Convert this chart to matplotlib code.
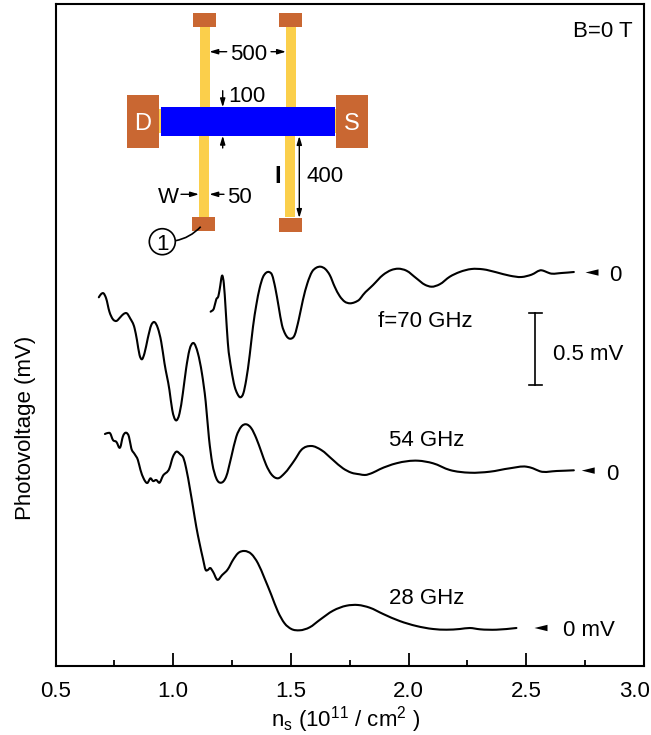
import numpy as np
import matplotlib
matplotlib.use("Agg")
import matplotlib.pyplot as plt
from matplotlib.patches import Rectangle, Circle, PathPatch, Polygon
from matplotlib.path import Path
from matplotlib.transforms import ScaledTranslation

plt.rcParams['font.family'] = ['Liberation Sans', 'DejaVu Sans']
plt.rcParams['mathtext.fontset'] = 'custom'
plt.rcParams['mathtext.rm'] = 'Liberation Sans'
plt.rcParams['mathtext.default'] = 'regular'

# carrier density (1e11 / cm^2) and signal (1/144 mV) relative to each trace's zero
ns_70 = [1.155,1.169,1.179,1.188,1.193,1.205,1.211,1.219,1.228,1.243,1.257,1.268,1.281,1.294,1.306,1.321,1.335,1.349,1.363,1.377,1.391,1.403,1.416,1.430,1.444,1.458,1.472,1.495,1.512,1.529,1.547,1.566,1.586,1.604,1.622,1.642,1.661,1.682,1.703,1.725,1.746,1.767,1.788,1.802,1.845,1.887,1.923,1.951,1.987,2.029,2.065,2.093,2.128,2.171,2.213,2.263,2.312,2.369,2.426,2.476,2.518,2.561,2.575,2.596,2.646,2.698]
v_70 = [-39.2,-35.8,-26.8,-23.5,-17.5,-3.2,-10.8,-37.5,-70,-97,-114,-121,-124.8,-120.8,-107.5,-82.5,-54.2,-32.5,-15.8,-4.8,-0.2,0.5,-2.5,-15.8,-34.2,-52.5,-61.5,-66.2,-62.5,-47.5,-27.5,-10.8,0.8,4.8,5.8,3.5,-2.5,-14.2,-23.5,-29.2,-30.8,-29.8,-26.8,-22.5,-12.5,-2.5,2.5,3.8,1.8,-5.8,-12.2,-14.2,-11.8,-4.2,0.5,3.5,3.2,0.2,-3.2,-4.5,-2.2,2.2,1.2,-0.8,-0.5,0.5]

ns_54 = [.680,.690,.700,.711,.725,.740,.754,.771,.785,.799,.813,.832,.842,.853,.863,.874,.888,.903,.915,.931,.945,.959,.980,.992,1.007,1.023,1.037,1.051,1.065,1.082,1.101,1.118,1.134,1.148,1.162,1.179,1.200,1.221,1.243,1.264,1.285,1.306,1.328,1.349,1.370,1.391,1.413,1.441,1.469,1.512,1.540,1.583,1.625,1.675,1.717,1.753,1.788,1.810,1.843,1.873,1.944,2.036,2.100,2.171,2.256,2.341,2.426,2.497,2.524,2.554,2.625,2.698]
v_54 = [173.3,176.6,177.3,172.3,158.9,151.3,149.6,153.3,156.6,157.3,152.3,142.3,130.6,115.6,111.3,117.3,132.3,145.6,148.6,142.3,128.9,107.3,80.6,60.6,50.3,57.3,77.3,102.3,120.6,127.6,117.3,97.3,68.9,32.3,7.3,-7.7,-12.1,-6.1,13.9,33.9,43.9,46.3,42.3,32.3,19,5.6,-3.7,-7.7,-2.7,10.6,20.6,24.6,20.6,10.6,2.3,-2.1,-3.7,-4.4,-2.2,1.3,7.3,9.9,7.3,0.6,-2.1,-1.1,2.3,3.9,2.3,-0.7,-0.4,0.3]

ns_28 = [.706,.718,.728,.740,.754,.771,.782,.796,.808,.818,.832,.846,.857,.870,.886,.900,.910,.924,.938,.952,.980,.995,1.009,1.026,1.040,1.051,1.068,1.080,1.094,1.108,1.122,1.134,1.143,1.153,1.165,1.183,1.204,1.228,1.250,1.271,1.299,1.328,1.356,1.384,1.413,1.441,1.469,1.498,1.533,1.576,1.618,1.675,1.732,1.781,1.831,1.888,1.958,2.029,2.100,2.157,2.214,2.256,2.299,2.369,2.454]
v_28 = [194,195,194.7,188,186.3,180.7,191.3,195.3,191.3,179.7,174,168,158,149.7,145,149.7,147,148,145.3,152,159.7,171.3,176.3,173.7,169.7,159.7,138,121.3,101.3,84.7,69.7,58,58,60,56.3,48.3,53,58.7,68,74.7,77,74,64.7,49.7,33,16.3,4.7,-1,-2.3,.7,8,17.3,22.3,23,20.3,14,7,2,-1,-1.7,-1,0,-1.3,-1.7,0]

zero_levels = [393.5, 195.4, 38.0]
x_major = [0.5, 1.0, 1.5, 2.0, 2.5, 3.0]
x_minor = [0.75, 1.25, 1.75, 2.25, 2.75]
x_labels = ['0.5', '1.0', '1.5', '2.0', '2.5', '3.0']
X_CAL = 0.004  # reading offset of the traces against the ticks

FS = 16
W, H = 651, 735
fig = plt.figure(figsize=(W/100, H/100), dpi=100)
ax = fig.add_axes([55.5/W, 1-666/H, (644-55.5)/W, (666-4)/H])
ax.set_xlim(0.5, 3.0)
ax.set_ylim(0, 662)
for s in ax.spines.values():
    s.set_linewidth(1.5)
ax.set_yticks([])
ax.set_xticks(x_major)
ax.set_xticklabels(x_labels, fontsize=FS)
ax.set_xticks(x_minor, minor=True)
ax.tick_params(axis='x', which='major', direction='in', length=9.4, width=1.3, pad=11)
ax.tick_params(axis='x', which='minor', direction='in', length=4.5, width=1.3)
last = ax.get_xticklabels()[-1]
last.set_transform(last.get_transform() + ScaledTranslation(-9/72*0.72, 0, fig.dpi_scale_trans))
ax.set_xlabel(r'n$_{s}$ (10$^{11}$ / cm$^{2}$ )', fontsize=FS, labelpad=1, x=(346-55.5)/588.5)
ax.set_ylabel('Photovoltage (mV)', fontsize=FS, labelpad=14, y=(666-428)/662)


def smooth_path(x, y):
    """Cubic Hermite curve through the read values, as a Bezier path."""
    x = np.asarray(x, float); y = np.asarray(y, float)
    m = np.gradient(y, x)
    verts = [(x[0], y[0])]
    codes = [Path.MOVETO]
    for i in range(len(x)-1):
        h = x[i+1] - x[i]
        verts += [(x[i]+h/3, y[i]+m[i]*h/3), (x[i+1]-h/3, y[i+1]-m[i+1]*h/3), (x[i+1], y[i+1])]
        codes += [Path.CURVE4]*3
    return Path(verts, codes)


for ns, v, z in zip((ns_70, ns_54, ns_28), (v_70, v_54, v_28), zero_levels):
    ax.add_patch(PathPatch(smooth_path(np.array(ns) + X_CAL, np.array(v) + z),
                           fc='none', ec='black', lw=1.5, joinstyle='round', capstyle='round'))

# overlay in picture pixels for the annotations and the device sketch
ov = fig.add_axes([0, 0, 1, 1])
ov.set_xlim(0, W)
ov.set_ylim(H, 0)
ov.axis('off')
ov.patch.set_alpha(0)


def rect(x0, y0, x1, y1, c, z=2):
    ov.add_patch(Rectangle((x0, y0), x1-x0, y1-y0, fc=c, ec='none', zorder=z))


YEL, BRN, BLU = '#FBCF4B', '#C96732', '#0000FF'
rect(199.7, 27, 210, 107, YEL); rect(199, 136, 209, 217, YEL)
rect(285.7, 27, 295.7, 107, YEL); rect(285, 136, 295, 217, YEL)
rect(159, 109, 336, 133, YEL)
for b in [(193,13,216,27), (279,13,302,27), (192,217,215,231), (279,218,302,232),
          (127,95,159,147.7), (336,95,368,147.7)]:
    rect(*b, BRN, 3)
rect(161, 107, 335, 135.7, BLU, 3)


def txt(x, y, s, ha='center', **k):
    k.setdefault('fontsize', FS)
    ov.text(x, y, s, ha=ha, va='center_baseline', zorder=6, **k)


txt(142.7, 121.7, 'D', color='white', fontsize=17)
txt(351.7, 121.7, 'S', color='white', fontsize=17)
txt(248.3, 52, '500'); txt(246.7, 93.5, '100'); txt(325, 173.5, '400')
txt(168.3, 194.5, 'W'); txt(239.3, 194.5, '50')
txt(277.3, 174, 'I', fontweight='bold', fontsize=17)
txt(602.7, 29, 'B=0 T')
txt(425, 319, 'f=70 GHz'); txt(426.5, 438, '54 GHz'); txt(426.5, 596, '28 GHz')
txt(588, 352, '0.5 mV')
txt(615.7, 273, '0'); txt(612.3, 471.5, '0'); txt(563, 628, '0 mV', ha='left')


def arrow(p0, p1, style='-|>'):
    ov.annotate('', xy=p1, xytext=p0, zorder=6,
                arrowprops=dict(arrowstyle=style + ',head_length=0.5,head_width=0.15',
                                lw=1.0, color='black', shrinkA=0, shrinkB=0))


arrow((226.7, 51.7), (209.3, 51.7)); arrow((271, 51.7), (286, 51.7))
arrow((222.7, 90.7), (222.7, 107.3)); arrow((222.7, 148), (222.7, 135.7))
arrow((181, 194.3), (199, 194.3)); arrow((224, 194.3), (209.3, 194.3))
arrow((299.3, 136), (299.3, 218), '<|-|>')

# scale bar
ov.plot([535.3, 535.3], [313, 385], color='black', lw=1.2, zorder=6)
for y in (313, 385):
    ov.plot([528.5, 542.2], [y, y], color='black', lw=1.2, zorder=6)

# zero markers
for x, y in [(585.5, 272.5), (581.7, 470.6), (534.5, 628)]:
    ov.add_patch(Polygon([(x, y), (x+13, y-3.2), (x+13, y+3.2)], fc='black', ec='none', zorder=6))

# contact label
ov.add_patch(Circle((162.3, 241.7), 13, fc='white', ec='black', lw=1.2, zorder=6))
txt(162.3, 241.7, '1')
ov.add_patch(PathPatch(Path([(175.5, 240.7), (190, 238), (200.7, 226.7)],
                            [Path.MOVETO, Path.CURVE3, Path.CURVE3]),
                       fc='none', ec='black', lw=1.2, zorder=6))

fig.savefig('out.png', dpi=100)
